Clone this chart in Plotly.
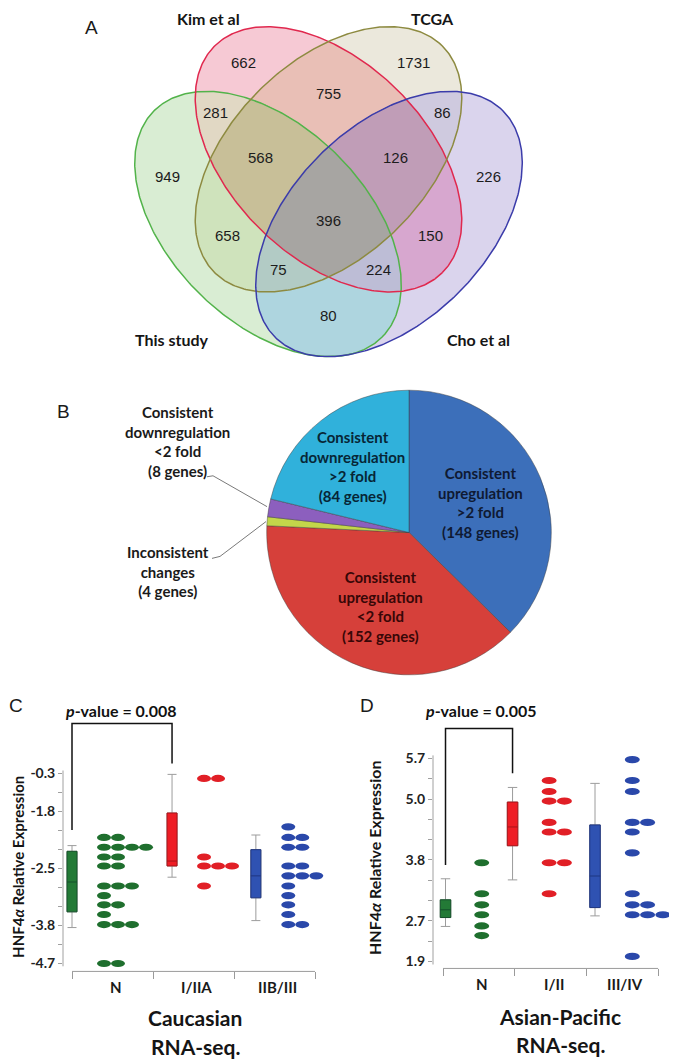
import numpy as np
import plotly.graph_objects as go

W, H = 677, 1060          # reference picture size
OFF = 8                   # page body margin in the browser
WF, HF = W - OFF, H - OFF  # figure size so that the page matches the picture

# ---------------- Panel A : Venn diagram data ----------------
venn_set_names = ["This study", "Kim et al", "TCGA", "Cho et al"]
venn_regions = ["G", "R", "O", "B", "GR", "RO", "OB", "GRO", "ROB", "GROB", "GO", "RB", "GOB", "GRB", "GB"]
venn_counts = [949, 662, 1731, 226, 281, 755, 86, 568, 126, 396, 658, 150, 75, 224, 80]

# ---------------- Panel B : pie data ----------------
pie_labels = ["Consistent upregulation >2 fold", "Consistent upregulation <2 fold",
              "Inconsistent changes", "Consistent downregulation <2 fold",
              "Consistent downregulation >2 fold"]
pie_values = [148, 152, 4, 8, 84]

# ---------------- Panel C : Caucasian RNA-seq ----------------
c_categories = ["N", "I/IIA", "IIB/III"]
c_tick_labels = [-4.7, -3.8, -2.5, -1.8, -0.3]
c_dots_N = [-2.12, -2.12, -2.24, -2.24, -2.24, -2.24, -2.36, -2.36, -2.47, -2.47,
            -2.90, -2.90, -2.90, -3.12, -3.33, -3.33, -3.55, -3.78, -3.78, -3.78,
            -4.70, -4.70]
c_dots_I = [-0.50, -0.50, -2.36, -2.47, -2.47, -2.47, -2.90]
c_dots_II = [-1.99, -2.12, -2.12, -2.24, -2.24, -2.47, -2.47, -2.67, -2.67, -2.67,
             -2.90, -3.12, -3.33, -3.55, -3.78, -3.78]
# box stats: lower whisker, q1, median, q3, upper whisker
c_box_N = [-3.85, -3.49, -2.81, -2.29, -2.22]
c_box_I = [-2.70, -2.47, -2.41, -1.82, -0.34]
c_box_II = [-3.69, -3.17, -2.67, -2.27, -2.09]

# ---------------- Panel D : Asian-Pacific RNA-seq ----------------
d_categories = ["N", "I/II", "III/IV"]
d_tick_labels = [1.9, 2.7, 3.8, 5.0, 5.7]
d_dots_N = [3.75, 3.19, 2.99, 2.81, 2.60, 2.41]
d_dots_I = [5.32, 5.13, 4.96, 4.96, 4.54, 4.35, 4.35, 3.75, 3.75, 3.19]
d_dots_III = [5.68, 5.32, 5.13, 4.54, 4.54, 4.35, 3.94, 3.19, 2.99, 2.99,
              2.81, 2.81, 2.81, 2.00]
d_box_N = [2.59, 2.76, 2.90, 3.08, 3.46]
d_box_I = [3.44, 4.08, 4.45, 4.94, 5.20]
d_box_III = [2.79, 2.94, 3.51, 4.49, 5.27]

# ======================= styling / geometry =======================
LBL = "Lato"
NUMF = "Liberation Sans"


def fx(p):
    return (p - OFF) / WF


def fy(p):
    return 1 - (p - OFF) / HF


fig = go.Figure()

# ---- Venn (page pixel axes x/y) ----
BIT = {"G": 1, "R": 2, "O": 4, "B": 8}
ELLIPSES = [  # cx, cy, semi-major, semi-minor, angle(deg), line colour, key
    (268.0, 221.0, 161, 98, 45, "#52b34a", "G"),
    (328.5, 156.0, 161, 98, 45, "#e0284e", "R"),
    (328.5, 156.0, 161, 98, -45, "#8d8a40", "O"),
    (389.0, 221.0, 161, 98, -45, "#3b3caa", "B"),
]
region_fill = {
    "G": "#d9edd3", "R": "#f6c9d4", "O": "#ebe8dc", "B": "#dad4ed",
    "GR": "#e1d8c4", "GO": "#cfe3bc", "GB": "#aed5df", "RO": "#e9bfb6",
    "RB": "#d7a7cf", "OB": "#cfcadf", "GRO": "#c8bf98", "GRB": "#bdbdd6",
    "GOB": "#b2cbc5", "ROB": "#c09db7", "GROB": "#a7a5a2",
}
gx = np.arange(124, 534) + 0.5
gy = np.arange(12, 364) + 0.5
GX, GY = np.meshgrid(gx, gy)
Z = np.zeros_like(GX)
for cx, cy, a, b, ang, col, key in ELLIPSES:
    t = np.deg2rad(ang)
    c, s = np.cos(t), np.sin(t)
    dx, dy = GX - cx, GY - cy
    u = dx * c + dy * s
    v = -dx * s + dy * c
    Z += BIT[key] * (((u / a) ** 2 + (v / b) ** 2) <= 1.0)
Z[Z == 0] = np.nan
cscale = []
for k in range(16):
    name = "".join(ch for ch in "GROB" if k & BIT[ch])
    col = region_fill.get(name, "#ffffff")
    cscale += [[k / 16, col], [(k + 1) / 16, col]]
fig.add_trace(go.Heatmap(x=gx, y=gy, z=Z, colorscale=cscale, zmin=-0.5, zmax=15.5,
                         showscale=False, hoverinfo="skip", zsmooth=False,
                         xaxis="x", yaxis="y"))
tt = np.linspace(0, 2 * np.pi, 400)
for cx, cy, a, b, ang, col, key in ELLIPSES:
    t = np.deg2rad(ang)
    c, s = np.cos(t), np.sin(t)
    ex = cx + a * np.cos(tt) * c - b * np.sin(tt) * s
    ey = cy + a * np.cos(tt) * s + b * np.sin(tt) * c
    fig.add_trace(go.Scatter(x=ex, y=ey, mode="lines", line=dict(color=col, width=1.5),
                             hoverinfo="skip", xaxis="x", yaxis="y"))

venn_count_xy = [(167, 173), (243, 59), (413, 59), (488, 173), (215, 109), (328, 90),
                 (442, 109), (260, 154), (395, 154), (328, 217), (227, 233), (430, 233),
                 (278, 267), (378, 267), (328, 313)]
venn_name_xy = [(172, 337), (208, 15), (432, 15), (478, 337)]

annotations = []


def ann(text, x, y, size, family=LBL, bold=False, color="#1a1a1a", angle=0,
        xanchor="center", yanchor="middle", xref="x", yref="y"):
    annotations.append(dict(text=text, x=x, y=y, xref=xref, yref=yref, showarrow=False,
                            xanchor=xanchor, yanchor=yanchor, textangle=angle, align="center",
                            font=dict(family=family, size=size, color=color,
                                      weight="bold" if bold else "normal")))


for n, (x, y) in zip(venn_counts, venn_count_xy):
    ann(str(n), x, y, 15, family=NUMF, color="#1c1c1c")
for name, (x, y) in zip(venn_set_names, venn_name_xy):
    ann(name, x, y, 16, bold=True, color="#151515")
ann("A", 91, 24, 19, family=NUMF)

# ---- Pie (panel B) ----
PIE_C = (409, 531)
PIE_R = 143
pie_colors = ["#3c6fba", "#d6403a", "#c3d64a", "#8c5fbe", "#30b1db"]
fig.add_trace(go.Pie(values=pie_values, labels=pie_labels, sort=False, direction="clockwise",
                     rotation=0, textinfo="none", hoverinfo="skip", showlegend=False,
                     marker=dict(colors=pie_colors, line=dict(color="rgba(60,60,60,0.45)", width=1)),
                     domain=dict(x=[fx(PIE_C[0] - PIE_R), fx(PIE_C[0] + PIE_R)],
                                 y=[fy(PIE_C[1] + PIE_R), fy(PIE_C[1] - PIE_R)])))
ann("Consistent<br>upregulation<br>>2 fold<br>(148 genes)", 480, 501, 15, bold=True, color="#0f1a33")
ann("Consistent<br>upregulation<br>&lt;2 fold<br>(152 genes)", 380, 605, 15, bold=True, color="#380707")
ann("Consistent<br>downregulation<br>>2 fold<br>(84 genes)", 352, 465, 15, bold=True, color="#072636")
ann("Consistent<br>downregulation<br>&lt;2 fold<br>(8 genes)", 177, 440, 15, bold=True, color="#1a1a1a")
ann("Inconsistent<br>changes<br>(4 genes)", 168, 570, 15, bold=True, color="#1a1a1a")
ann("B", 63, 409, 19, family=NUMF)
for lx, ly in [([207, 213, 267], [475, 474, 505]), ([212, 220, 266], [557, 555, 520])]:
    fig.add_trace(go.Scatter(x=lx, y=ly, mode="lines", line=dict(color="#7a7a7a", width=1),
                             hoverinfo="skip", xaxis="x", yaxis="y"))

# ---- Panels C and D ----
PANELS = [
    dict(key="C", xpx0=72, xunit=81.0, dom_x=(63, 330), ypx0=964, yunit=19.1,
         dom_y=(768, 972), ticks=c_tick_labels, cats=c_categories, cat_y=988,
         dots=[c_dots_N, c_dots_I, c_dots_II], boxes=[c_box_N, c_box_I, c_box_II],
         box_x=[0.0, 1.235, 2.27], dot_x=[0.395, 1.63, 2.67], step=14.0, dot_w=14.0,
         box_w=10.0, pval="<i>p</i>-value = 0.008", pval_xy=(120, 710),
         br_y=(723, 830, 763), title_x=195, title_y=(1018, 1047), ytitle_xy=(18, 867),
         ysize=15, letter_xy=(16, 705)),
    dict(key="D", xpx0=443, xunit=71.7, dom_x=(433, 677), ypx0=962, yunit=20.4,
         dom_y=(753, 969), ticks=d_tick_labels, cats=d_categories, cat_y=985,
         dots=[d_dots_N, d_dots_I, d_dots_III], boxes=[d_box_N, d_box_I, d_box_III],
         box_x=[0.035, 0.97, 2.12], dot_x=[0.54, 1.48, 2.64], step=15.3, dot_w=15.0,
         box_w=10.5, pval="<i>p</i>-value = 0.005", pval_xy=(480, 710),
         br_y=(728, 865, 773), title_x=560, title_y=(1017, 1045), ytitle_xy=(375, 858),
         ysize=16, letter_xy=(367, 705)),
]
TICK_POS = [0, 2, 5, 8, 10]
DOT_COL = ["#1f6f2e", "#e11f26", "#2a48aa"]
BOX_FILL = ["#237a36", "#ee1d25", "#2f52b2"]
BOX_EDGE = ["#14502a", "#a8141a", "#1f3680"]
TITLES = {"C": ["Caucasian", "RNA-seq."], "D": ["Asian-Pacific", "RNA-seq."]}
shapes = []
layout_axes = {}

for i, P in enumerate(PANELS):
    n = i + 2
    xr = ((P["dom_x"][0] - P["xpx0"]) / P["xunit"], (P["dom_x"][1] - P["xpx0"]) / P["xunit"])
    yr = ((P["ypx0"] - P["dom_y"][1]) / P["yunit"], (P["ypx0"] - P["dom_y"][0]) / P["yunit"])
    tickvals = list(range(11))
    ticktext = [""] * 11
    for pos, lab in zip(TICK_POS, P["ticks"]):
        ticktext[pos] = f"{lab:.1f}"
    layout_axes[f"xaxis{n}"] = dict(domain=[fx(P["dom_x"][0]), fx(P["dom_x"][1])], range=list(xr),
                                    anchor=f"y{n}", showgrid=False, zeroline=False, showline=False,
                                    tickmode="array", tickvals=[0, 1, 2, 3], ticks="outside",
                                    ticklen=7, tickwidth=1, tickcolor="#9a9a9a",
                                    showticklabels=False, fixedrange=True)
    layout_axes[f"yaxis{n}"] = dict(domain=[fy(P["dom_y"][1]), fy(P["dom_y"][0])],
                                    range=list(yr), anchor=f"x{n}", showgrid=False, zeroline=False,
                                    showline=False, tickmode="array", tickvals=tickvals,
                                    ticktext=ticktext, ticks="outside", ticklen=4, tickwidth=1,
                                    tickcolor="#a0a0a0", fixedrange=True,
                                    tickfont=dict(family=LBL, size=14, color="#222222", weight="bold"))
    # axis lines
    shapes.append(dict(type="line", xref=f"x{n} domain", yref=f"y{n}", x0=0, x1=0, y0=-0.15, y1=10.15,
                       line=dict(color="#a0a0a0", width=1)))
    shapes.append(dict(type="line", xref=f"x{n}", yref=f"y{n} domain", x0=0, x1=3, y0=0, y1=0,
                       line=dict(color="#9a9a9a", width=1)))

    def to_pos(vals, P=P):
        return np.interp(vals, P["ticks"], TICK_POS)

    hw = P["dot_w"] / 2 / P["xunit"]
    hh = 3.6 / P["yunit"]
    step = P["step"] / P["xunit"]
    for g in range(3):
        # box: grey whiskers then coloured box
        lf, q1, med, q3, uf = to_pos(P["boxes"][g])
        bw = P["box_w"] / P["xunit"]
        fig.add_trace(go.Box(x=[P["box_x"][g]], q1=[q1], median=[med], q3=[q3],
                             lowerfence=[lf], upperfence=[uf], width=bw, whiskerwidth=0.9,
                             line=dict(color="#9c9c9c", width=1), fillcolor="rgba(0,0,0,0)",
                             boxpoints=False, hoverinfo="skip", xaxis=f"x{n}", yaxis=f"y{n}"))
        fig.add_trace(go.Box(x=[P["box_x"][g]], q1=[q1], median=[med], q3=[q3],
                             lowerfence=[q1], upperfence=[q3], width=bw, whiskerwidth=0,
                             line=dict(color=BOX_EDGE[g], width=1), fillcolor=BOX_FILL[g],
                             boxpoints=False, hoverinfo="skip", xaxis=f"x{n}", yaxis=f"y{n}"))
        # dots
        vals = P["dots"][g]
        seen = {}
        for v, p in zip(vals, to_pos(vals)):
            k = seen.get(v, 0)
            seen[v] = k + 1
            xc = P["dot_x"][g] + k * step
            shapes.append(dict(type="circle", xref=f"x{n}", yref=f"y{n}", x0=xc - hw, x1=xc + hw,
                               y0=p - hh, y1=p + hh, fillcolor=DOT_COL[g], line=dict(width=0),
                               layer="above"))
        # category label
        annotations.append(dict(text=P["cats"][g], x=g + 0.5, y=fy(P["cat_y"]),
                                xref=f"x{n}", yref="paper", showarrow=False, xshift=3,
                                xanchor="center", yanchor="middle",
                                font=dict(family=LBL, size=15, color="#1a1a1a", weight="bold")))
    # bracket
    bx0 = P["xpx0"] + P["xunit"] * P["box_x"][0]
    bx1 = P["xpx0"] + P["xunit"] * P["box_x"][1]
    top, lbot, rbot = P["br_y"]
    fig.add_trace(go.Scatter(x=[bx0, bx0, bx1, bx1], y=[lbot, top, top, rbot], mode="lines",
                             line=dict(color="#111111", width=1.5), hoverinfo="skip",
                             xaxis="x", yaxis="y"))
    ann(P["pval"], P["pval_xy"][0], P["pval_xy"][1], 16, bold=True, color="#111111")
    ann(TITLES[P["key"]][0], P["title_x"], P["title_y"][0], 21, bold=True, color="#151515")
    ann(TITLES[P["key"]][1], P["title_x"], P["title_y"][1], 21, bold=True, color="#151515")
    ann("HNF4<i>α</i> Relative Expression", P["ytitle_xy"][0], P["ytitle_xy"][1], P["ysize"],
        bold=True, color="#151515", angle=-90)
    ann(P["key"], P["letter_xy"][0], P["letter_xy"][1], 19, family=NUMF)

fig.update_layout(
    width=WF, height=HF, margin=dict(l=0, r=0, t=0, b=0),
    paper_bgcolor="white", plot_bgcolor="rgba(0,0,0,0)", showlegend=False,
    xaxis=dict(domain=[0, 1], range=[OFF, W], visible=False, fixedrange=True),
    yaxis=dict(domain=[0, 1], range=[H, OFF], visible=False, fixedrange=True),
    boxmode="overlay", annotations=annotations, shapes=shapes,
    **layout_axes,
)
fig.write_html("out.html")
